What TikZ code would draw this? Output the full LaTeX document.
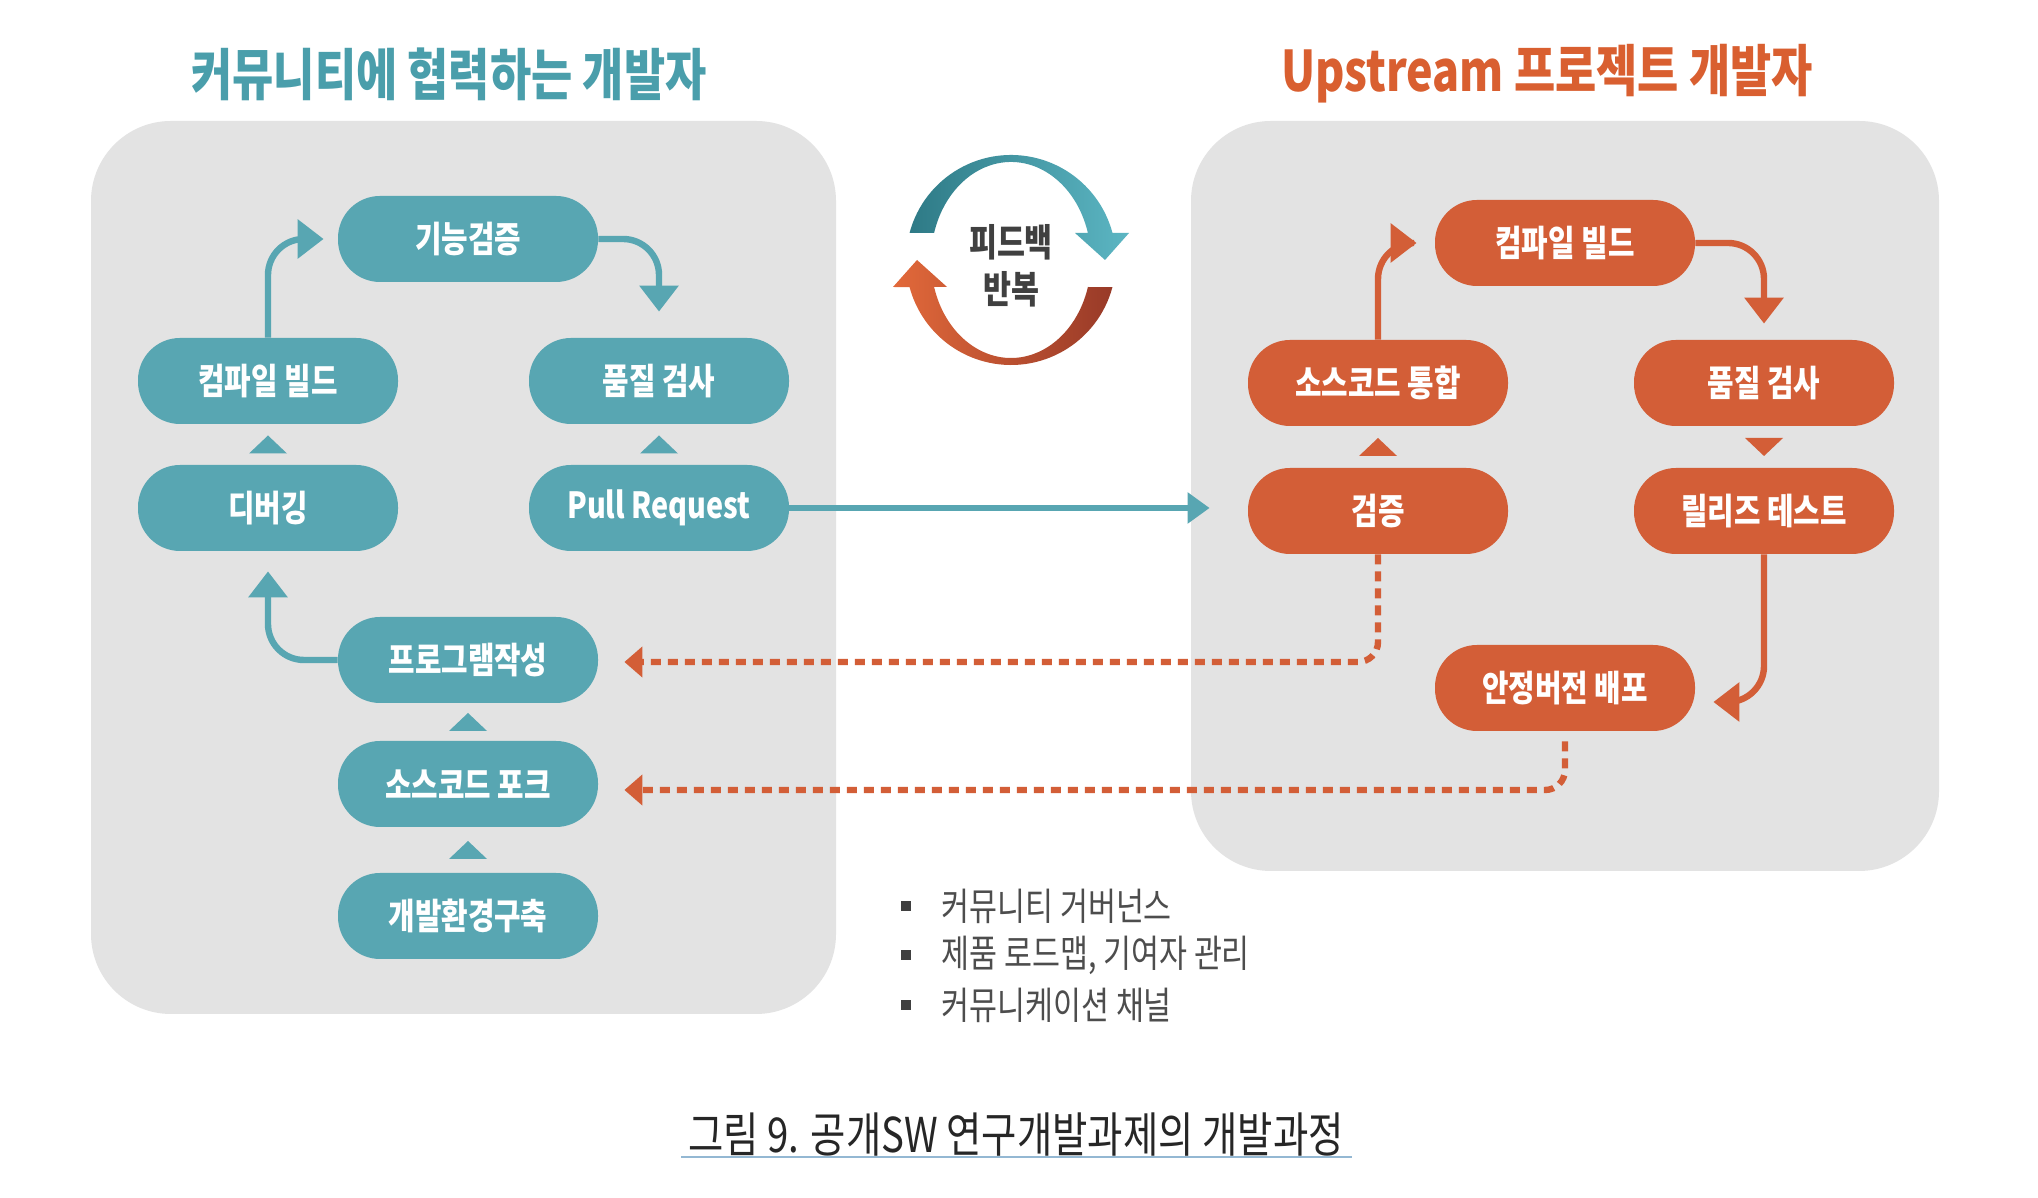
\documentclass[tikz,border=0pt]{standalone}
\usepackage{fontspec}
\setmainfont{Noto Sans CJK KR}[FakeStretch=0.8]
\usetikzlibrary{arrows.meta,calc}

\definecolor{comteal}{HTML}{58A6B2}
\definecolor{comtitle}{HTML}{4A9EAB}
\definecolor{upcolor}{HTML}{D35E37}
\definecolor{uptitle}{HTML}{D95F30}
\definecolor{panelgray}{HTML}{E3E3E3}
\definecolor{fbdark}{HTML}{2E7A86}
\definecolor{fblight}{HTML}{5CB6C3}
\definecolor{fbred}{HTML}{983A28}
\definecolor{fborange}{HTML}{E2693A}
\definecolor{listgray}{HTML}{4D4D4D}
\definecolor{capline}{HTML}{94B8D3}

\begin{document}
\begin{tikzpicture}[x=0.5pt,y=0.5pt,
    stage/.style={rounded corners=21pt, minimum width=130pt, minimum height=43pt,
      inner sep=0pt, text=white, font=\bfseries\fontsize{18}{21}\selectfont},
    comstage/.style={stage, fill=comteal},
    upstage/.style={stage, fill=upcolor},
    flow/.style={line width=3.2pt, rounded corners=18pt, -{Triangle[width=19pt,length=13pt]}},
    back/.style={draw=upcolor, line width=3.2pt, dash pattern=on 5pt off 3.5pt,
      rounded corners=10pt, -{Triangle[width=15pt,length=9pt]}},
    item/.style={anchor=west, inner sep=0pt, text=listgray, font=\fontsize{19}{22}\selectfont}]
    \useasboundingbox[fill=white] (0,0) rectangle (2038,1198);
    % panels and titles
    \fill[panelgray, rounded corners=40pt] (91,184) rectangle (836,1077);
    \fill[panelgray, rounded corners=40pt] (1191,327) rectangle (1939,1077);
    \node[text=comtitle, font=\bfseries\fontsize{28}{32}\selectfont] (comtitle) at (449,1124) {커뮤니티에 협력하는 개발자};
    \node[text=uptitle, font=\bfseries\fontsize{28}{32}\selectfont] (uptitle) at (1547,1124) {Upstream 프로젝트 개발자};

    % community side
    \node[comstage] (ccheck) at (468,959) {기능검증};
    \node[comstage] (cbuild) at (268,817) {컴파일 빌드};
    \node[comstage] (cqa) at (659,817) {품질 검사};
    \node[comstage] (cdebug) at (268,690) {디버깅};
    \node[comstage] (cpr) at (659,690) {Pull Request};
    \node[comstage] (cwrite) at (468,538) {프로그램작성};
    \node[comstage] (cfork) at (468,414) {소스코드 포크};
    \node[comstage] (cenv) at (468,282) {개발환경구축};

    % upstream side
    \node[upstage] (ubuild) at (1565,955) {컴파일 빌드};
    \node[upstage] (umerge) at (1378,815) {소스코드 통합};
    \node[upstage] (uqa) at (1764,815) {품질 검사};
    \node[upstage] (uverify) at (1378,687) {검증};
    \node[upstage] (utest) at (1764,687) {릴리즈 테스트};
    \node[upstage] (urelease) at (1565,510) {안정버전 배포};

    % small step triangles
    \fill[comteal] ($(cdebug.north)!.5!(cbuild.south)$) +(-19,-9) -- +(19,-9) -- +(0,9) -- cycle;
    \fill[comteal] ($(cpr.north)!.5!(cqa.south)$) +(-19,-9) -- +(19,-9) -- +(0,9) -- cycle;
    \fill[comteal] ($(cfork.north)!.5!(cwrite.south)$) +(-19,-9) -- +(19,-9) -- +(0,9) -- cycle;
    \fill[comteal] ($(cenv.north)!.5!(cfork.south)$) +(-19,-9) -- +(19,-9) -- +(0,9) -- cycle;
    \fill[upcolor] ($(uverify.north)!.5!(umerge.south)$) +(-19,-9) -- +(19,-9) -- +(0,9) -- cycle;
    \fill[upcolor] ($(uqa.south)!.5!(utest.north)$) +(-19,9) -- +(19,9) -- +(0,-9) -- cycle;

    % arrows
    \draw[flow, comteal] (cbuild.north) |- ([xshift=-7pt]ccheck.west);
    \draw[flow, comteal] (ccheck.east) -| ([yshift=13pt]cqa.north);
    \draw[flow, comteal] (cwrite.west) -| ([yshift=-10pt]cdebug.south);
    \draw[flow, comteal, -{Triangle[width=15pt,length=11pt]}] (cpr.east) -- ([xshift=-19pt]uverify.west |- cpr.east);
    \draw[flow, upcolor] (umerge.north) |- ([xshift=-9pt]ubuild.west);
    \draw[flow, upcolor] (ubuild.east) -| ([yshift=8pt]uqa.north);
    \draw[flow, upcolor] (utest.south) |- ([xshift=9pt,yshift=-7pt]urelease.east);
    \draw[back] (uverify.south) |- ([xshift=13pt,yshift=-1pt]cwrite.east);
    \draw[back] ([yshift=-5pt]urelease.south) |- ([xshift=13pt,yshift=-3pt]cfork.east);

    % feedback loop
    \begin{scope}[shift={(1011,938)}]
        \shade[left color=fbdark, right color=fblight] (165:105) arc[start angle=165, end angle=15, radius=105]
            -- (118,27) -- (94,0) -- (64,27) -- (16:80 and 98)
            arc[start angle=16, end angle=164, x radius=80, y radius=98] -- cycle;
        \shade[left color=fborange, right color=fbred] (-15:105) arc[start angle=-15, end angle=-165, radius=105]
            -- (-118,-27) -- (-94,0) -- (-64,-27) -- (196:80 and 98)
            arc[start angle=196, end angle=344, x radius=80, y radius=98] -- cycle;
    \end{scope}
    \node[text=black!75, align=center, font=\bfseries\fontsize{19}{23.5}\selectfont] (feedback) at (1011,932) {피드백\\반복};

    % governance list
    \node[item] (gov1) at (941,292) {커뮤니티 거버넌스};
    \node[item] (gov2) at (941,243) {제품 로드맵, 기여자 관리};
    \node[item] (gov3) at (941,193) {커뮤니케이션 채널};
    \foreach \g in {gov1,gov2,gov3}
        \fill[black!75] ($(\g.west)+(-35,0)$) ++(-5,-5) rectangle ++(10,10);

    % caption
    \node[text=black!85, font=\fontsize{24}{27}\selectfont] (caption) at (1016,63) {그림 9. 공개SW 연구개발과제의 개발과정};
    \draw[capline, line width=0.7pt] (681,41) -- (1352,41);
\end{tikzpicture}
\end{document}
